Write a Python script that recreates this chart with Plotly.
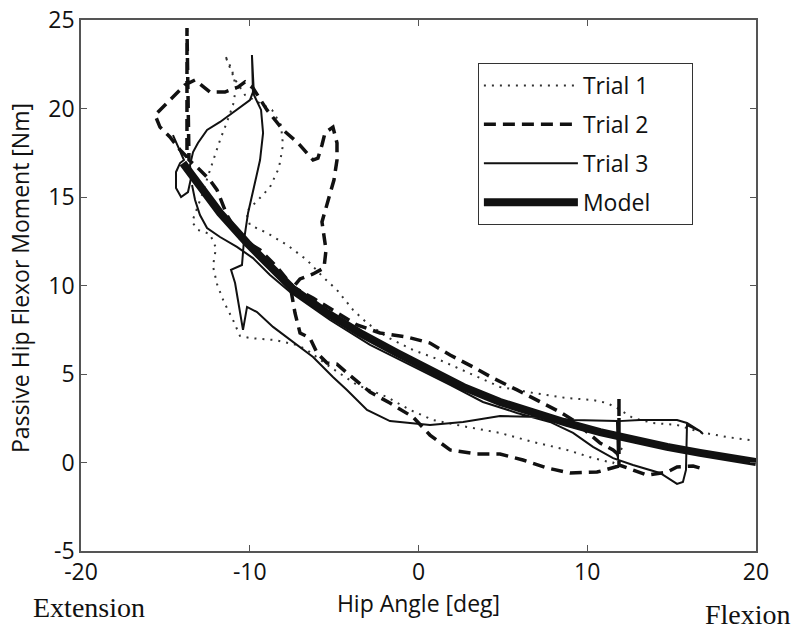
import plotly.graph_objects as go

# ---- data ----
trial1_x = [12.06, 11.53, 10.34, 8.80, 6.79, 4.83, 2.87, 0.86, -0.50, -1.87, -3.64, -5.24, -6.61, -7.20,
            -8.50, -9.99, -10.58, -10.99, -11.53, -11.94, -12.18, -12.00, -12.36, -13.07, -13.42, -13.19,
            -12.83, -12.47, -12.12, -11.76, -11.35, -10.99, -10.81, -11.05, -11.47, -10.93, -10.28, -9.27,
            -8.68, -8.15, -8.03, -8.27, -8.80, -9.51, -10.22, -9.99, -8.98, -7.79, -6.61, -5.66, -4.83,
            -3.88, -3.05, -1.87, -0.33, 1.27, 2.87, 4.83, 6.79, 8.80, 10.34, 11.17, 11.76, 12.71, 13.90,
            15.32, 16.68, 18.28, 19.64]
trial1_y = [0.82, -0.03, 0.25, 0.71, 1.16, 1.67, 2.01, 2.40, 2.97, 3.70, 4.38, 5.40, 6.36, 6.64,
            6.92, 7.03, 7.15, 8.05, 9.07, 10.08, 11.10, 12.12, 12.91, 13.14, 13.59, 14.15,
            15.11, 16.19, 17.20, 18.22, 19.24, 20.20, 21.16, 22.18, 23.02, 21.72, 20.76, 20.25,
            19.92, 19.07, 17.94, 16.64, 15.56, 14.83, 14.15, 13.42, 12.97, 12.29, 11.44, 10.48, 9.75,
            8.62, 7.88, 7.09, 6.36, 5.79, 5.11, 4.27, 3.93, 3.64, 3.53, 3.36, 3.08, 2.51, 2.23,
            2.12, 1.72, 1.44, 1.27]

trial2_x = [11.88, 10.58, 8.98, 7.61, 6.19, 4.83, 3.47, 1.87, 0.68, -0.33, -1.69, -2.87, -4.24, -4.83,
            -5.42, -6.01, -6.43, -7.02, -7.32, -7.56, -7.02, -6.25, -5.60, -5.48, -5.72, -5.36, -5.01,
            -4.83, -4.83, -5.07, -5.54, -5.72, -5.96, -6.25, -7.14, -8.03, -8.98, -9.81, -10.28, -10.70,
            -11.47, -12.36, -13.24, -13.84, -14.73, -15.61, -15.32, -14.73, -14.13, -13.72, -13.72,
            -13.60, -12.95, -12.36, -11.94, -11.35, -10.58, -9.39, -8.39, -7.44, -6.25, -5.07, -3.64,
            -2.28, -0.68, 0.68, 1.87, 3.23, 4.41, 5.84, 7.20, 8.39, 9.16, 10.76, 11.53, 11.88, 11.88,
            11.88, 13.54, 14.73, 15.32, 16.27, 16.68]
trial2_y = [-0.20, -0.54, -0.59, -0.31, 0.14, 0.48, 0.48, 0.71, 1.55, 2.57, 3.36, 3.98, 5.06, 5.56,
            5.62, 6.19, 7.03, 7.32, 8.45, 9.75, 10.37, 10.65, 10.99, 12.01, 13.59, 14.83, 15.96,
            17.09, 18.05, 18.95, 18.62, 17.94, 17.20, 17.09, 18.05, 18.79, 19.92, 21.16, 21.50, 21.21,
            20.93, 20.93, 21.61, 21.33, 20.48, 19.63, 18.95, 18.39, 17.66, 17.26, 24.55,
            17.09, 16.53, 15.96, 15.40, 13.98, 12.68, 12.01, 11.05, 9.92, 9.29, 8.62, 7.77,
            7.32, 7.09, 6.75, 6.07, 5.40, 4.77, 4.10, 3.42, 2.85, 2.40, 1.10, 0.71, 0.42, 3.64,
            -0.14, -0.71, -0.54, -0.25, -0.20, -0.31]

trial3_x = [-14.55, -14.19, -13.90, -14.13, -14.37, -14.37, -14.07, -13.66, -13.48, -13.54, -13.36,
            -13.07, -12.53, -11.76, -10.76, -9.99, -9.81, -9.87, -9.75, -9.33, -9.21, -9.39, -9.75,
            -10.10, -10.34, -10.46, -11.11, -10.87, -10.70, -10.40, -10.16, -9.57, -8.62, -7.61, -6.25,
            -5.07, -4.24, -3.05, -1.69, 0.68, 2.64, 4.83, 7.20, 9.16, 11.76, 11.82, 11.88, 13.13, 15.32,
            15.91, 16.68, 16.86, 16.68, 15.91, 15.85, 15.67, 15.32, 14.31, 12.71, 11.53, 10.34, 9.16,
            7.79, 5.84, 3.82, 1.87, -0.50, -2.87, -5.24, -7.61, -8.80, -9.81, -10.76, -11.76, -12.53,
            -12.95, -13.24, -13.42]
trial3_y = [18.50, 17.77, 17.09, 16.92, 16.41, 15.51, 15.00, 15.28, 16.07, 16.81, 17.54,
            18.05, 18.79, 19.24, 19.92, 20.48, 20.93, 23.02, 20.76, 19.92, 18.62, 17.09, 15.56,
            14.10, 12.57, 11.16, 10.88, 10.14, 9.18, 7.49, 8.79, 8.50, 7.66, 6.92, 5.96,
            4.83, 4.10, 2.97, 2.34, 2.12, 2.29, 2.63, 2.57, 2.40, 2.34, 0.14, 2.34, 2.40, 2.40,
            2.23, 1.78, 1.61, 1.78, 2.12, -0.42, -1.10, -1.21, -0.59, -0.14, 0.25, 0.88, 1.67,
            2.29, 2.80, 3.42, 4.38, 5.51, 6.64, 8.05, 9.63, 10.59, 11.55, 12.18, 12.74, 13.25,
            13.98, 14.83, 15.68]

model_x = [-13.96, -12.95, -11.76, -10.16, -8.98, -7.44, -5.42, -3.47, -1.27, 0.68, 2.64, 4.83,
           6.79, 8.80, 10.76, 12.71, 14.73, 16.68, 18.64, 20.0]
model_y = [16.92, 15.56, 14.10, 12.40, 11.27, 9.80, 8.45, 7.32, 6.19, 5.23, 4.27, 3.42,
           2.80, 2.23, 1.72, 1.27, 0.88, 0.54, 0.25, 0.03]

x_ticks = [-20, -10, 0, 10, 20]
y_ticks = [-5, 0, 5, 10, 15, 20, 25]

FONT = "Open Sans"
PAD = "\u00a0" * 6

fig = go.Figure()
fig.add_trace(go.Scatter(x=trial1_x, y=trial1_y, mode="lines", name="Trial 1" + PAD, legendgroup="t1",
                         line=dict(color="#333333", width=2, dash="2px,6px")))
fig.add_trace(go.Scatter(x=trial2_x, y=trial2_y, mode="lines", name="Trial 2" + PAD, legendgroup="t2",
                         line=dict(color="#111111", width=3.5, dash="12px,7px")))
fig.add_trace(go.Scatter(x=trial3_x, y=trial3_y, mode="lines", name="Trial 3" + PAD, legendgroup="t3",
                         line=dict(color="#111111", width=2)))
fig.add_trace(go.Scatter(x=model_x, y=model_y, mode="lines", name="Model" + PAD, legendgroup="m",
                         line=dict(color="#111111", width=8)))

axis_common = dict(showgrid=False, zeroline=False, showline=True, mirror="ticks",
                   linecolor="#555555", linewidth=1.5, ticks="inside", ticklen=6,
                   tickcolor="#555555", tickwidth=1, automargin=False,
                   ticklabeloverflow="allow",
                   tickfont=dict(family=FONT, size=23, color="#111111"))

fig.update_xaxes(range=[-20, 20], tickvals=x_ticks, ticktext=[str(v) for v in x_ticks],
                 title=dict(text="Hip Angle [deg]", font=dict(family=FONT, size=23, color="#111111"),
                            standoff=0),
                 **axis_common)
fig.update_yaxes(range=[-5, 25], tickvals=y_ticks, ticktext=[str(v) for v in y_ticks],
                 **axis_common)

fig.add_annotation(text="Passive Hip Flexor Moment [Nm]", xref="paper", yref="paper",
                   x=-0.0904, y=0.514, xanchor="center", yanchor="middle", textangle=-90,
                   showarrow=False, font=dict(family=FONT, size=23, color="#111111"))
fig.add_annotation(text="Extension", xref="paper", yref="paper", x=-0.074, y=-0.107,
                   xanchor="left", yanchor="middle", showarrow=False,
                   font=dict(family="Liberation Serif", size=28, color="#111111"))
fig.add_annotation(text="Flexion", xref="paper", yref="paper", x=1.055, y=-0.12,
                   xanchor="right", yanchor="middle", showarrow=False,
                   font=dict(family="Liberation Serif", size=28, color="#111111"))

# page body adds an 8px offset, so margins are set to place the plot box at 81..756 x 20..551
fig.update_layout(
    width=800, height=631,
    margin=dict(l=73, r=52, t=12, b=88, autoexpand=False),
    paper_bgcolor="white", plot_bgcolor="white",
    legend=dict(x=0.588, y=0.919, xanchor="left", yanchor="top",
                bgcolor="white", bordercolor="#333333", borderwidth=1,
                font=dict(family=FONT, size=23, color="#111111"),
                itemwidth=94, tracegroupgap=6),
)

fig.write_html("out.html")
